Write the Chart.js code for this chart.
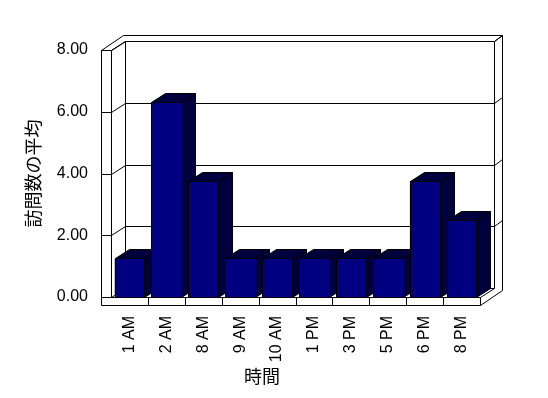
<!DOCTYPE html>
<html>
<head>
<meta charset="utf-8">
<script src="https://cdn.jsdelivr.net/npm/chart.js@4.4.1/dist/chart.umd.min.js"></script>
<style>
  html, body { margin: 0; padding: 0; background: #fff; }
  #c { display: block; }
</style>
</head>
<body>
<canvas id="c" width="548" height="398"></canvas>
<script>
const hours = ['1 AM', '2 AM', '8 AM', '9 AM', '10 AM', '1 PM', '3 PM', '5 PM', '6 PM', '8 PM'];
const avgVisits = [1.25, 6.3, 3.75, 1.25, 1.25, 1.25, 1.25, 1.25, 3.75, 2.5];
const yTicks = [0, 2, 4, 6, 8];

const NAVY = '#000080';
const SHADE = '#00003c';    // dark side/top of the bars
const DX = 14, DY = 9;      // depth of the plot box
const OX = 22, OY = 15;     // outer edge of the walls
const WALL = 10;            // thickness of left wall / floor

const line = (ctx, pts, close) => {
    ctx.beginPath();
    ctx.moveTo(pts[0][0], pts[0][1]);
    for (let i = 1; i < pts.length; i++) ctx.lineTo(pts[i][0], pts[i][1]);
    if (close) ctx.closePath();
    ctx.stroke();
};

const face = (ctx, pts) => {
    ctx.beginPath();
    ctx.moveTo(pts[0][0], pts[0][1]);
    for (let i = 1; i < pts.length; i++) ctx.lineTo(pts[i][0], pts[i][1]);
    ctx.closePath();
    ctx.fillStyle = SHADE;
    ctx.fill();
    ctx.stroke();
};

const frame3d = {
    id: 'frame3d',
    beforeDatasetsDraw(chart) {
        const { ctx, chartArea: a, scales } = chart;
        const L = Math.round(a.left) + 0.5, R = Math.round(a.right) + 0.5;
        const T = Math.round(a.top) + 0.5, B = Math.round(a.bottom) + 0.5;
        ctx.save();
        ctx.strokeStyle = '#000';
        ctx.lineWidth = 1;

        // back wall
        ctx.fillStyle = '#fff';
        ctx.fillRect(L + DX, T - DY, R - L, B - T);
        line(ctx, [[L + DX, T - DY], [R + DX, T - DY], [R + DX, B - DY], [L + DX, B - DY]], true);
        // outer edges of walls
        line(ctx, [[L - WALL, T], [L - WALL + OX, T - OY], [R + OX, T - OY], [R + OX, B + WALL - OY - 2]]);
        line(ctx, [[L, T], [L + DX, T - DY]]);
        line(ctx, [[R + DX, T - DY], [R + OX, T - OY]]);

        // gridlines through left wall and back wall
        yTicks.forEach(v => {
            const y = Math.round(scales.y.getPixelForValue(v)) + 0.5;
            if (v > 0) {
                line(ctx, [[L - WALL, y], [L, y], [L + DX, y - DY], [R + DX, y - DY], [R + OX, y - OY]]);
            }
        });

        // left wall front strip
        line(ctx, [[L - WALL, T], [L - WALL, B + WALL - 2]]);
        line(ctx, [[L, T], [L, B]]);
        line(ctx, [[L - WALL, T], [L, T]]);

        // floor
        line(ctx, [[L, B], [L + DX, B - DY]]);
        line(ctx, [[L - WALL, B], [R, B], [R + DX, B - DY]]);
        line(ctx, [[L - WALL, B + WALL - 2], [R, B + WALL - 2], [R + OX, B + WALL - 2 - OY]]);
        line(ctx, [[R, B], [R, B + WALL - 2]]);
        const cw = (a.right - a.left) / hours.length;
        for (let i = 1; i < hours.length; i++) {
            const x = Math.round(a.left + i * cw) + 0.5;
            line(ctx, [[x, B], [x, B + WALL - 2]]);
        }
        ctx.restore();
    },
    afterDatasetsDraw(chart) {
        const { ctx } = chart;
        const meta = chart.getDatasetMeta(0);
        ctx.save();
        ctx.strokeStyle = '#000';
        ctx.lineWidth = 1;
        meta.data.forEach(bar => {
            const { x, y, base, width } = bar.getProps(['x', 'y', 'base', 'width'], true);
            const x0 = Math.round(x - width / 2) + 0.5, x1 = Math.round(x + width / 2) + 0.5;
            const yt = Math.round(y) + 0.5, yb = Math.round(base) + 0.5;
            // side and top
            face(ctx, [[x1, yt], [x1 + DX, yt - DY], [x1 + DX, yb - DY], [x1, yb]]);
            face(ctx, [[x0, yt], [x0 + DX, yt - DY], [x1 + DX, yt - DY], [x1, yt]]);
            // front
            ctx.fillStyle = NAVY;
            ctx.fillRect(x0, yt, x1 - x0, yb - yt);
            ctx.strokeRect(x0, yt, x1 - x0, yb - yt);
        });
        ctx.restore();
    },
    afterDraw(chart) {
        const { ctx } = chart;
        ctx.save();
        ctx.fillStyle = '#000';
        ctx.font = '18px "Noto Sans CJK JP", sans-serif';
        ctx.textAlign = 'center';
        ctx.textBaseline = 'middle';
        ctx.fillText('時間', 262, 376);
        ctx.restore();
    }
};

new Chart(document.getElementById('c'), {
    type: 'bar',
    data: {
        labels: hours,
        datasets: [{
            label: '訪問数の平均',
            data: avgVisits,
            backgroundColor: NAVY,
            borderColor: '#000',
            borderWidth: 1,
            barPercentage: 0.81,
            categoryPercentage: 1.0,
        }]
    },
    options: {
        responsive: false,
        animation: false,
        devicePixelRatio: 1,
        layout: {
            padding: { left: 18, right: 68, top: 50, bottom: 7 }
        },
        scales: {
            x: {
                grid: { display: false, drawTicks: false },
                border: { display: false },
                ticks: {
                    autoSkip: false,
                    minRotation: 90,
                    maxRotation: 90,
                    padding: 19,
                    color: '#000',
                    font: { family: '"Liberation Sans", Arial, sans-serif', size: 16 },
                },
                title: { display: false },
                afterFit: s => { s.height = 94; },
            },
            y: {
                min: 0,
                max: 8,
                grid: { display: false, drawTicks: false },
                border: { display: false },
                ticks: {
                    stepSize: 2,
                    padding: 23,
                    color: '#000',
                    font: { family: '"Liberation Sans", Arial, sans-serif', size: 16 },
                    callback: v => v.toFixed(2),
                },
                title: {
                    display: true,
                    text: '訪問数の平均',
                    color: '#000',
                    font: { family: '"Noto Sans CJK JP", sans-serif', size: 18 },
                },
                afterFit: s => { s.width = 93; },
            }
        },
        plugins: {
            legend: { display: false },
            tooltip: { enabled: false },
        }
    },
    plugins: [frame3d]
});
</script>
</body>
</html>
